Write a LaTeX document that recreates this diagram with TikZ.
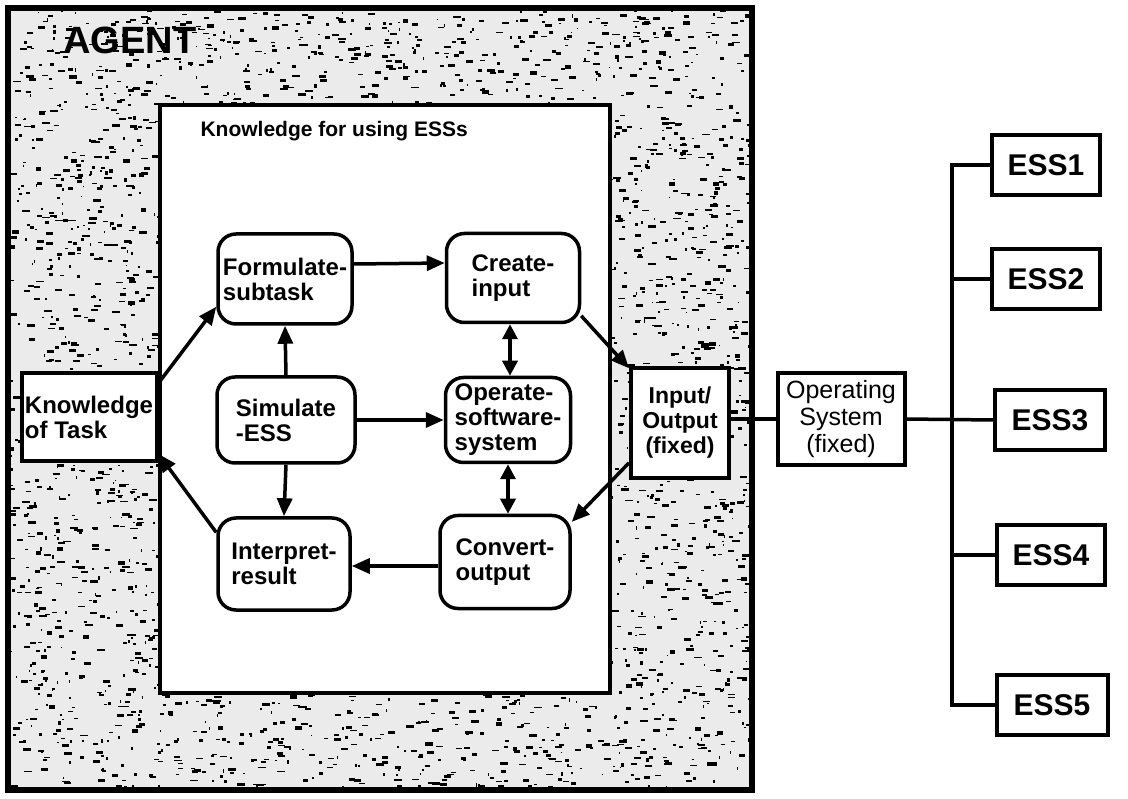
\documentclass[tikz,border=0pt]{standalone}
\usepackage{fontspec}
\setmainfont{Liberation Sans}
\usetikzlibrary{arrows.meta}

\tikzset{
  proc/.style={draw, line width=3.5pt, rounded corners=18pt, fill=white,
    align=left, inner sep=2pt,
    font=\bfseries\fontsize{24}{25}\selectfont},
  plainbox/.style={draw, line width=4pt, fill=white, inner sep=2pt},
  essbox/.style={draw, line width=4pt, fill=white, minimum width=108pt,
    minimum height=60pt, font=\bfseries\fontsize{30}{31}\selectfont},
  flow/.style={line width=3.5pt, -{Triangle[length=18pt,width=15pt]}},
  both/.style={line width=3.5pt, {Triangle[length=15pt,width=15pt]}-{Triangle[length=15pt,width=15pt]}},
  wire/.style={line width=3.5pt},
}

\begin{document}
\begin{tikzpicture}[x=1pt,y=-1pt]
\useasboundingbox (0,0) rectangle (1128,799);
\fill[white] (0,0) rectangle (1128,799);

% grainy agent area
\begin{scope}
  \clip (8,8) rectangle (752,790);
  \fill[black!8] (8,8) rectangle (752,790);
  \pgfmathsetseed{7}
  \foreach \i in {1,...,4200} {
    \fill[black] ({8+744*rnd},{8+782*rnd}) rectangle ++({1+7*rnd},{1+2.5*rnd});
  }
\end{scope}
\draw[line width=6pt] (8,8) rectangle (752,790);
\node[anchor=west, font=\bfseries\fontsize{38}{40}\selectfont] (agent) at (60,40) {AGENT};

% knowledge for using ESSs
\node[draw, line width=4pt, fill=white, minimum width=450pt, minimum height=588pt] (kb) at (385,399) {};
\node[anchor=west, font=\bfseries\fontsize{21}{22}\selectfont] (kbt) at (197,131) {Knowledge for using ESSs};

% processes
\node[proc, minimum width=134pt, minimum height=90pt] (formulate) at (285,279) {Formulate-\\subtask};
\node[proc, minimum width=133pt, minimum height=89pt] (create) at (513,278) {Create-\\input};
\node[proc, minimum width=138pt, minimum height=86pt] (simulate) at (286,420) {Simulate\\-ESS};
\node[proc, minimum width=125pt, minimum height=85pt] (operate) at (508,420) {Operate-\\software-\\system};
\node[proc, minimum width=132pt, minimum height=92pt] (interpret) at (284,564) {Interpret-\\result};
\node[proc, minimum width=130pt, minimum height=93pt] (convert) at (505,562) {Convert-\\output};

% task knowledge and I/O
\node[plainbox, minimum width=135pt, minimum height=88pt, align=left,
  font=\bfseries\fontsize{24}{25}\selectfont] (know) at (89,417) {Knowledge\\of Task};
\node[plainbox, minimum width=98pt, minimum height=110pt, align=center,
  font=\bfseries\fontsize{23}{25}\selectfont] (io) at (680,423) {Input/\\Output\\(fixed)};

% operating system
\node[plainbox, minimum width=127pt, minimum height=92pt, align=center,
  font=\fontsize{25}{27}\selectfont] (os) at (841,419) {Operating\\System\\(fixed)};

% ESSs
\node[essbox] (ess1) at (1046,165) {ESS1};
\node[essbox] (ess2) at (1046,279) {ESS2};
\node[essbox, minimum width=110pt] (ess3) at (1050,420) {ESS3};
\node[essbox] (ess4) at (1051,555) {ESS4};
\node[essbox, minimum width=111pt] (ess5) at (1052,705) {ESS5};
\coordinate (bus) at (952,420);

% flow inside the agent
\draw[flow] (know.26) -- (formulate.202);
\draw[flow] (interpret.155) -- (know.-28);
\draw[flow] ([yshift=15pt]formulate.east) -- ([yshift=15pt]create.west);
\draw[flow] (create.-29) -- (io.133);
\draw[flow] (io.218) -- (convert.31);
\draw[both] (create.south -| 510,0) -- (operate.north -| 510,0);
\draw[both] (operate.south -| 508,0) -- (convert.north -| 508,0);
\draw[flow] (simulate.east) -- (operate.west);
\draw[flow] (simulate.north) -- (formulate.south);
\draw[flow] (simulate.south) -- (interpret.north);
\draw[flow] ([yshift=-4pt]convert.west) -- ([yshift=-4pt]convert.west -| interpret.east);

% system links
\draw[wire] (io.east |- os.west) -- (os.west);
\draw[wire] (os.east) -- (ess3.west);
\draw[wire] (ess1.west) -| (bus) |- (ess5.west);
\draw[wire] (ess2.west) -- (ess2.west -| bus);
\draw[wire] (ess4.west) -- (ess4.west -| bus);
\end{tikzpicture}
\end{document}
